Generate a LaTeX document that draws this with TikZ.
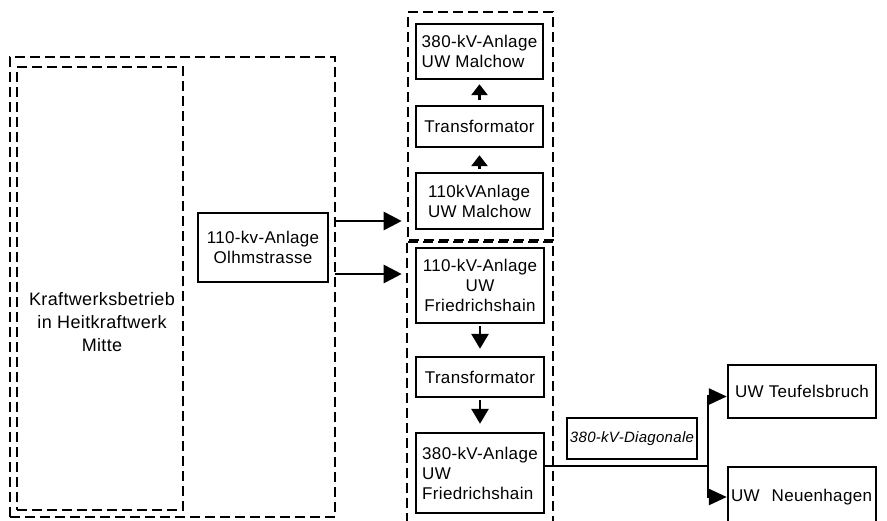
\documentclass[tikz,border=0pt]{standalone}
\usepackage{fontspec}
\setmainfont{Liberation Sans}[LetterSpace=2]
\usepackage{tikz}
\usetikzlibrary{arrows.meta}

\begin{document}
\begin{tikzpicture}[x=1pt,y=-1pt,
  grp/.style={draw,dash pattern=on 10pt off 5pt,line width=2.6pt,inner sep=0pt},
  anl/.style={draw,line width=2.4pt,inner sep=0pt,font=\fontsize{17}{20}\selectfont},
  txt/.style={font=\fontsize{18}{23}\selectfont,align=center},
  pfeil/.style={line width=2.8pt,-{Triangle[length=18pt,width=18pt]}},
  kl/.style={line width=2.8pt,-{Triangle[length=11pt,width=16pt]}},
  kf/.style={line width=2.8pt,-{Triangle[length=15pt,width=17pt]}},
  ast/.style={line width=2.4pt,-{Triangle[length=18pt,width=16pt]}}]
  \useasboundingbox (0,0) rectangle (887,520);
  \node[grp,minimum width=325pt,minimum height=460pt] (kw) at (172.5,287) {};
  \node[grp,minimum width=166pt,minimum height=443pt] (kwin) at (100,288.5) {};
  \node[txt] (kwtext) at (102,322) {Kraftwerksbetrieb\\in Heitkraftwerk\\Mitte};
  \node[anl,minimum width=130pt,minimum height=69pt,align=center] (olhm) at (263,247.5) {110-kv-Anlage\\Olhmstrasse};
  \node[grp,minimum width=145pt,minimum height=230pt] (mgrp) at (480.5,127) {};
  \node[anl,minimum width=127pt,minimum height=55pt,align=left] (mHV) at (479.5,51.5) {380-kV-Anlage\\UW Malchow};
  \node[anl,minimum width=127pt,minimum height=41pt] (mTr) at (479.5,126.5) {Transformator};
  \node[anl,minimum width=127pt,minimum height=56pt,align=left] (mMV) at (479.5,201) {110kVAnlage\\UW Malchow};
  \node[grp,minimum width=146pt,minimum height=290pt] (fgrp) at (480,385) {};
  \node[anl,minimum width=128pt,minimum height=75pt,align=center] (fMV) at (480,285.5) {110-kV-Anlage\\UW\\Friedrichshain};
  \node[anl,minimum width=128pt,minimum height=40pt] (fTr) at (480,377) {Transformator};
  \node[anl,minimum width=128pt,minimum height=80pt,align=left] (fHV) at (480,473) {380-kV-Anlage\\UW\\Friedrichshain};
  \node[anl,minimum width=130pt,minimum height=41pt,font=\itshape\fontsize{15}{18}\selectfont] (diag) at (632,438.5) {380-kV-Diagonale};
  \node[anl,minimum width=148pt,minimum height=53pt] (teufel) at (802,391.5) {UW Teufelsbruch};
  \node[anl,minimum width=148pt,minimum height=60pt,text width=148pt,align=left] (neuen) at (802,497) {\hspace{3pt}UW\hspace{12pt}Neuenhagen};
  \coordinate (o1) at (335,221);
  \coordinate (o2) at (335,274);
  \coordinate (split) at (708,466);
  \draw[pfeil,shorten >=5pt] (o1) -- (o1 -| mgrp.west);
  \draw[pfeil,shorten >=4pt] (o2) -- (o2 -| fgrp.west);
  \draw[kl,shorten <=5pt,shorten >=4pt] (mTr.north) -- (mHV.south);
  \draw[kl,shorten <=3pt,shorten >=7pt] (mMV.north) -- (mTr.south);
  \draw[kf,shorten <=2pt,shorten >=7pt] (fMV.south) -- (fTr.north);
  \draw[kf,shorten <=2pt,shorten >=8pt] (fTr.south) -- (fHV.north);
  \draw[line width=2.4pt] ([yshift=7pt]fHV.east) -- (split);
  \draw[ast] (split) |- ([yshift=-5pt]teufel.west);
  \draw[ast] (split) |- (neuen.west);
\end{tikzpicture}
\end{document}
